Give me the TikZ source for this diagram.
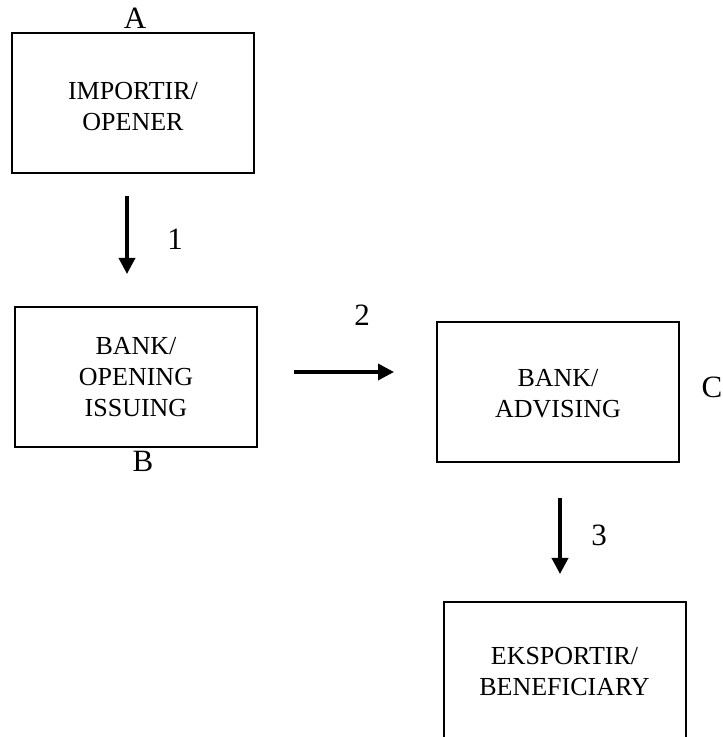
\documentclass[tikz,border=0pt]{standalone}
\usepackage{fontspec}
\setmainfont{Liberation Serif}
\usetikzlibrary{arrows.meta}
\begin{document}
\begin{tikzpicture}[x=1pt,y=1pt,
  box/.style={draw=black, line width=2pt, rectangle, minimum width=242pt, minimum height=140pt,
    align=center, inner sep=0pt, font=\fontsize{26}{31}\selectfont},
  boxtext/.style={align=center, inner sep=0pt, font=\fontsize{26}{31}\selectfont},
  lbl/.style={inner sep=0pt, font=\fontsize{31}{34}\selectfont},
  arr/.style={line width=3.5pt, -{Triangle[length=16pt,width=16pt]}}]
\useasboundingbox (0,0) rectangle (723,737);
\clip (0,0) rectangle (723,737);
\node[box] (A) at (133,633.5) {};
\node[boxtext] (At) at ([yshift=-3pt]A.center) {IMPORTIR/\\OPENER};
\node[box] (B) at (136,360) {BANK/\\OPENING\\ISSUING};
\node[box] (C) at (558,345) {};
\node[boxtext] (Ct) at ([yshift=-2pt]C.center) {BANK/\\ADVISING};
\node[box] (D) at (564.5,65) {EKSPORTIR/\\BENEFICIARY};
\node[lbl] (la) at (135,719) {A};
\node[lbl] (lb) at (143,276) {B};
\node[lbl] (lc) at (712,350) {C};
\node[lbl] (l1) at (175,498) {1};
\node[lbl] (l2) at (362,422) {2};
\node[lbl] (l3) at (599,202) {3};
\draw[arr, shorten <=22pt, shorten >=32pt] ([xshift=-6pt]A.south) -- ([xshift=-6pt]A.south |- B.north);
\draw[arr, shorten <=36pt, shorten >=42pt] ([yshift=5pt]B.east) -- ([yshift=5pt]B.east -| C.west);
\draw[arr, shorten <=35pt, shorten >=27pt] ([xshift=2pt]C.south) -- ([xshift=2pt]C.south |- D.north);
\end{tikzpicture}
\end{document}
